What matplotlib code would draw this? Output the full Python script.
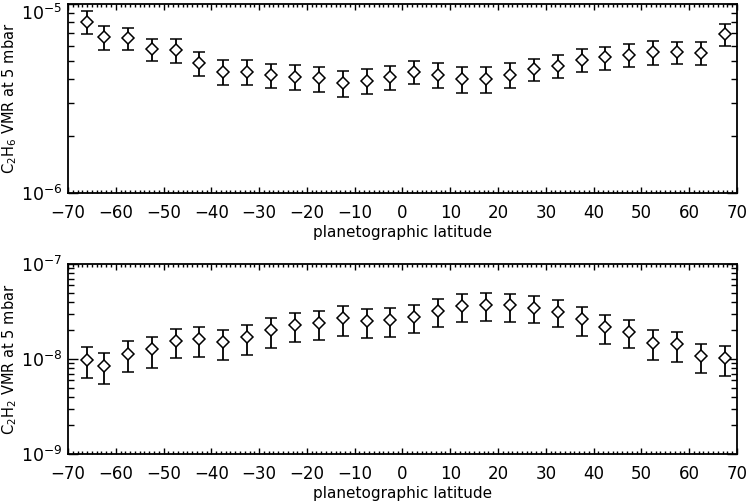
import numpy as np
import matplotlib
matplotlib.use('Agg')
import matplotlib.pyplot as plt
import matplotlib.transforms as mtransforms
from matplotlib.ticker import MultipleLocator, LogLocator, NullFormatter

# latitude bins (deg)
lat = [-66, -62.5, -57.5, -52.5, -47.5, -42.5, -37.5, -32.5, -27.5, -22.5,
       -17.5, -12.5, -7.5, -2.5, 2.5, 7.5, 12.5, 17.5, 22.5, 27.5,
       32.5, 37.5, 42.5, 47.5, 52.5, 57.5, 62.5, 67.5]

# C2H6 VMR at 5 mbar and 1-sigma errors
c2h6 = [8.06e-6, 6.67e-6, 6.59e-6, 5.76e-6, 5.71e-6, 4.86e-6, 4.39e-6, 4.39e-6,
        4.22e-6, 4.13e-6, 4.05e-6, 3.84e-6, 3.94e-6, 4.10e-6, 4.39e-6, 4.23e-6,
        4.01e-6, 4.01e-6, 4.23e-6, 4.52e-6, 4.72e-6, 5.06e-6, 5.23e-6, 5.40e-6,
        5.56e-6, 5.56e-6, 5.53e-6, 6.92e-6]
c2h6_err = [1.10e-6, 0.94e-6, 0.91e-6, 0.78e-6, 0.81e-6, 0.70e-6, 0.64e-6, 0.64e-6,
            0.62e-6, 0.62e-6, 0.61e-6, 0.61e-6, 0.60e-6, 0.58e-6, 0.62e-6, 0.63e-6,
            0.63e-6, 0.63e-6, 0.62e-6, 0.62e-6, 0.65e-6, 0.69e-6, 0.73e-6, 0.76e-6,
            0.78e-6, 0.75e-6, 0.75e-6, 0.93e-6]

# C2H2 VMR at 5 mbar and 1-sigma errors
c2h2 = [9.76e-9, 8.44e-9, 1.14e-8, 1.26e-8, 1.56e-8, 1.62e-8, 1.50e-8, 1.69e-8,
        2.02e-8, 2.28e-8, 2.38e-8, 2.68e-8, 2.51e-8, 2.57e-8, 2.79e-8, 3.20e-8,
        3.64e-8, 3.70e-8, 3.67e-8, 3.47e-8, 3.15e-8, 2.62e-8, 2.19e-8, 1.94e-8,
        1.49e-8, 1.43e-8, 1.08e-8, 1.02e-8]
c2h2_err = [3.5e-9, 3.0e-9, 4.1e-9, 4.5e-9, 5.3e-9, 5.6e-9, 5.3e-9, 6.0e-9,
            7.0e-9, 7.8e-9, 8.0e-9, 9.5e-9, 8.6e-9, 8.5e-9, 9.0e-9, 1.05e-8,
            1.2e-8, 1.2e-8, 1.2e-8, 1.1e-8, 1.0e-8, 8.8e-9, 7.4e-9, 6.5e-9,
            5.1e-9, 4.9e-9, 3.7e-9, 3.5e-9]

plt.rcParams['font.family'] = ['DejaVu Sans']
plt.rcParams['font.size'] = 12
plt.rcParams['mathtext.default'] = 'regular'

fig = plt.figure(figsize=(7.49, 5.04), dpi=100)
ax1 = fig.add_axes([0.0908, 0.6165, 0.893, 0.3756])
ax2 = fig.add_axes([0.0908, 0.0992, 0.893, 0.377])


def draw_panel(ax, y, yerr, ylim, ylabel):
    ax.errorbar(lat, y, yerr=yerr, fmt='D', ms=6, mfc='white', mec='black',
                mew=1.1, color='black', elinewidth=1.3, capsize=4.5, capthick=1.3)
    ax.set_yscale('log')
    ax.set_ylim(ylim)
    ax.set_xlim(-70, 70)
    ax.xaxis.set_major_locator(MultipleLocator(10))
    ax.xaxis.set_minor_locator(MultipleLocator(1))
    ax.yaxis.set_major_locator(LogLocator(base=10))
    ax.yaxis.set_minor_locator(LogLocator(base=10, subs=np.arange(2, 10)))
    ax.yaxis.set_minor_formatter(NullFormatter())
    ax.tick_params(which='both', direction='in', top=True, right=True, width=1)
    ax.tick_params(which='major', length=7, pad=4)
    ax.tick_params(axis='x', which='major', length=4, pad=8)
    ax.tick_params(axis='x', which='minor', length=2)
    ax.tick_params(axis='y', which='minor', length=4)
    ax.tick_params(axis='y', which='major', labelsize=12.5)
    for s in ax.spines.values():
        s.set_linewidth(1.3)
    ax.set_xlabel('planetographic latitude', fontsize=11, labelpad=2)
    ax.set_ylabel(ylabel, fontsize=10.5)
    ax.yaxis.set_label_coords(-0.074, 0.5)


draw_panel(ax1, c2h6, c2h6_err, (1e-6, 1e-5), r'C$_2$H$_6$ VMR at 5 mbar')
draw_panel(ax2, c2h2, c2h2_err, (1e-9, 1e-7), r'C$_2$H$_2$ VMR at 5 mbar')

# nudge the top decade label down so it stays inside the figure
fig.canvas.draw()
shift = mtransforms.ScaledTranslation(0, -6 / 72, fig.dpi_scale_trans)
for t in ax1.yaxis.get_major_ticks():
    if np.isclose(t.get_loc(), 1e-5):
        t.label1.set_transform(t.label1.get_transform() + shift)

fig.savefig('out.png', dpi=100)
